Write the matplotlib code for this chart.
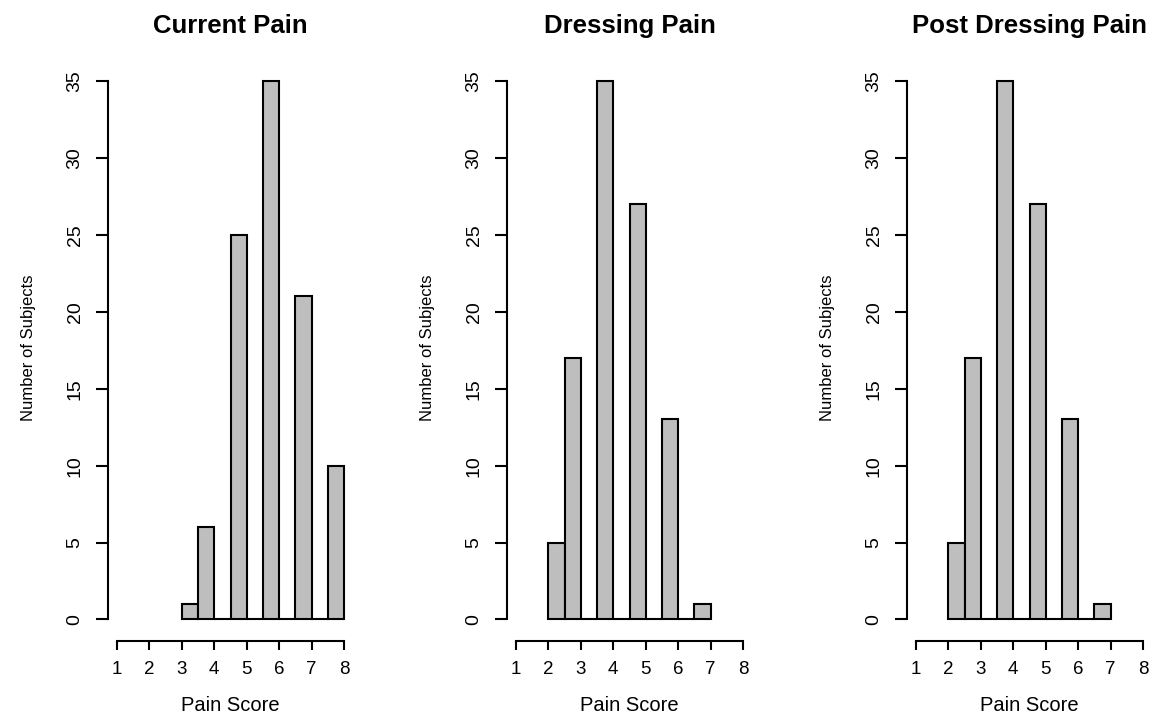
#!/usr/bin/python
# Histograms of pain scores at three points of the dressing change.

import numpy as np
import matplotlib
matplotlib.use("Agg")
import matplotlib.pyplot as plt

plt.rcParams['font.family'] = ['Liberation Sans', 'DejaVu Sans']

titles = ["Current Pain", "Dressing Pain", "Post Dressing Pain"]

# left edges of the half-point bins and the counts in each
current_edges = [3.0, 3.5, 4.0, 4.5, 5.0, 5.5, 6.0, 6.5, 7.0, 7.5]
current_counts = [1, 6, 0, 25, 0, 35, 0, 21, 0, 10]

dressing_edges = [2.0, 2.5, 3.0, 3.5, 4.0, 4.5, 5.0, 5.5, 6.0, 6.5]
dressing_counts = [5, 17, 0, 35, 0, 27, 0, 13, 0, 1]

post_edges = [2.0, 2.5, 3.0, 3.5, 4.0, 4.5, 5.0, 5.5, 6.0, 6.5]
post_counts = [5, 17, 0, 35, 0, 27, 0, 13, 0, 1]

bin_width = 0.5
x_ticks = [1, 2, 3, 4, 5, 6, 7, 8]
y_ticks = [0, 5, 10, 15, 20, 25, 30, 35]


def PlotHist(ax, edges, counts, title):
  ax.bar(edges, counts, width=bin_width, align='edge', color='#bebebe',
         edgecolor='black', linewidth=1.5)

  # R-style ranges: 4% padding on each side
  ax.set_xlim(0.72, 8.28)
  ax.set_ylim(-1.4, 36.4)

  for side in ('top', 'right'):
    ax.spines[side].set_visible(False)
  ax.spines['bottom'].set_bounds(x_ticks[0], x_ticks[-1])
  ax.spines['left'].set_bounds(y_ticks[0], y_ticks[-1])
  for side in ('bottom', 'left'):
    ax.spines[side].set_linewidth(1.5)

  ax.set_xticks(x_ticks)
  ax.set_yticks(y_ticks)
  ax.tick_params(axis='x', length=6.5, width=1.5, pad=8, labelsize=13.5)
  ax.tick_params(axis='y', length=8.6, width=1.5, pad=9, labelsize=14)
  plt.setp(ax.get_yticklabels(), rotation=90, va='center')

  ax.set_title(title, fontsize=18.5, fontweight='bold', pad=19)
  ax.set_xlabel('Pain Score', fontsize=14.5)
  ax.set_ylabel('Number of Subjects', fontsize=12)
  ax.xaxis.set_label_coords(0.5, -0.094)
  ax.yaxis.set_label_coords(-0.294, 0.505)


def PlotAll():
  fig = plt.figure(figsize=(11.52, 7.17), dpi=100)
  lefts = [108, 507, 907]
  data = [(current_edges, current_counts),
          (dressing_edges, dressing_counts),
          (post_edges, post_counts)]
  for left, (edges, counts), title in zip(lefts, data, titles):
    ax = fig.add_axes([left / 1152.0, 76 / 717.0, 245 / 1152.0, 581.5 / 717.0])
    PlotHist(ax, edges, counts, title)
  fig.savefig("out.png", dpi=100)


if __name__ == "__main__":
  PlotAll()
